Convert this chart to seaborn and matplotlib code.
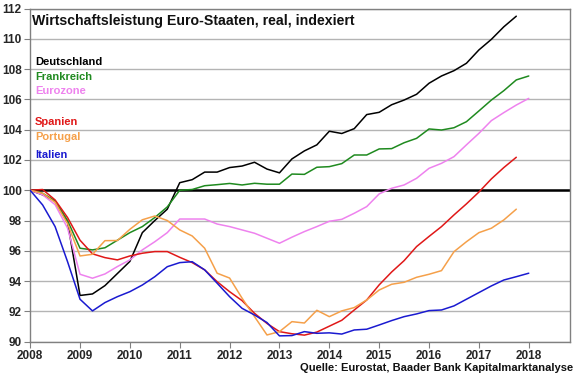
import numpy as np
import pandas as pd
import seaborn as sns
import matplotlib.pyplot as plt

# ---------------------------------
# Data (quarterly index, 2008Q1 = 100)
# ---------------------------------
start_year = 2008

deutschland = [100.0, 99.7, 99.3, 97.9, 93.05, 93.15, 93.7, 94.5, 95.3, 97.2,
               98.0, 98.75, 100.5, 100.7, 101.2, 101.2, 101.5, 101.6, 101.85, 101.4,
               101.15, 102.07, 102.6, 103.0, 103.9, 103.75, 104.07, 105.0, 105.15, 105.65,
               105.96, 106.34, 107.07, 107.55, 107.9, 108.39, 109.27, 109.97, 110.8, 111.5]
frankreich = [100.0, 99.8, 99.3, 98.0, 96.17, 96.06, 96.2, 96.7, 97.2, 97.6,
              98.2, 98.9, 100.0, 100.05, 100.3, 100.37, 100.45, 100.35, 100.46, 100.4,
              100.4, 101.07, 101.05, 101.52, 101.56, 101.76, 102.33, 102.33, 102.73, 102.75,
              103.14, 103.43, 104.05, 103.98, 104.13, 104.53, 105.24, 105.96, 106.58, 107.29,
              107.55]
eurozone = [100.0, 99.7, 99.05, 97.5, 94.45, 94.19, 94.47, 94.96, 95.4, 96.06,
            96.6, 97.2, 98.1, 98.1, 98.1, 97.77, 97.6, 97.38, 97.16, 96.83,
            96.5, 96.9, 97.27, 97.6, 97.95, 98.08, 98.48, 98.92, 99.76, 100.13,
            100.35, 100.79, 101.45, 101.78, 102.22, 103.0, 103.76, 104.6, 105.13, 105.63,
            106.07]
spanien = [100.0, 100.05, 99.36, 98.2, 96.7, 95.8, 95.55, 95.4, 95.66, 95.84,
           95.95, 95.95, 95.57, 95.22, 94.74, 93.96, 93.3, 92.71, 91.87, 91.2,
           90.66, 90.52, 90.43, 90.63, 91.02, 91.41, 92.09, 92.75, 93.75, 94.6,
           95.35, 96.28, 96.95, 97.6, 98.37, 99.1, 99.88, 100.75, 101.5, 102.18]
portugal = [100.0, 99.8, 99.2, 97.8, 95.66, 95.77, 96.67, 96.68, 97.42, 98.05,
            98.3, 98.0, 97.38, 96.98, 96.17, 94.52, 94.2, 92.87, 91.65, 90.44,
            90.66, 91.32, 91.23, 92.07, 91.65, 92.03, 92.25, 92.75, 93.41, 93.79,
            93.92, 94.25, 94.45, 94.69, 95.94, 96.6, 97.2, 97.49, 98.04, 98.75]
italien = [100.0, 99.03, 97.6, 95.28, 92.8, 92.03, 92.58, 92.97, 93.3, 93.74,
           94.29, 94.95, 95.22, 95.28, 94.74, 93.86, 92.97, 92.2, 91.76, 91.26,
           90.38, 90.4, 90.66, 90.55, 90.58, 90.5, 90.77, 90.82, 91.1, 91.39,
           91.65, 91.83, 92.05, 92.09, 92.36, 92.8, 93.24, 93.68, 94.07, 94.29,
           94.52]

names = ['Deutschland', 'Frankreich', 'Eurozone', 'Spanien', 'Portugal', 'Italien']
series = [deutschland, frankreich, eurozone, spanien, portugal, italien]
colors = ['#000000', '#1f8a1f', '#ee82ee', '#e01818', '#f5a04a', '#1a1ad0']
years = list(range(2008, 2019))

# Long format frame
frames = []
for name, values in zip(names, series):
    t = start_year + np.arange(len(values)) / 4
    frames.append(pd.DataFrame({'t': t, 'value': values, 'land': name}))
data = pd.concat(frames, ignore_index=True)

# ---------------------------------
# Plot
# ---------------------------------
sns.set_theme(style="white")
plt.rcParams['font.family'] = ['Liberation Sans', 'DejaVu Sans']

f, ax = plt.subplots(figsize=(5.8, 3.75), dpi=100)
f.subplots_adjust(left=0.052, right=0.983, top=0.977, bottom=0.089)

# Grid
for yv in range(90, 113, 2):
    ax.axhline(yv, color='#b4b4b4', linewidth=1.0, zorder=0)
ax.axhline(100, color='black', linewidth=1.8, zorder=1)

# Lines
sns.lineplot(data=data, x='t', y='value', hue='land', hue_order=names,
             palette=dict(zip(names, colors)), linewidth=1.1,
             legend=False, ax=ax, zorder=3)

# Axes config
ax.set(xlim=(2008, 2018.83), ylim=(90, 112), xlabel='', ylabel='')
ax.set_xticks(years)
ax.set_yticks(range(90, 113, 2))
ax.tick_params(axis='both', which='both', length=4, width=0.8, color='#808080',
               labelsize=8.5, pad=2, direction='out', bottom=True, left=True)
for lab in ax.get_xticklabels() + ax.get_yticklabels():
    lab.set_fontweight('bold')
for s in ax.spines.values():
    s.set_color('#808080')
    s.set_linewidth(1.0)

# Title inside the plot
ax.text(0.004, 0.985, 'Wirtschaftsleistung Euro-Staaten, real, indexiert',
        transform=ax.transAxes, ha='left', va='top', fontsize=10.2,
        fontweight='bold', color='#111111')

# Series labels
label_y = [108.45, 107.5, 106.55, 104.5, 103.55, 102.35]
for name, color, yl in zip(names, colors, label_y):
    ax.text(2008.1, yl, name, color=color, fontsize=8, fontweight='bold',
            ha='left', va='center')

# Source
f.text(0.988, 0.006, 'Quelle: Eurostat, Baader Bank Kapitalmarktanalyse',
       ha='right', va='bottom', fontsize=8.0, fontweight='bold', color='#111111')

f.savefig('out.png', dpi=100)
